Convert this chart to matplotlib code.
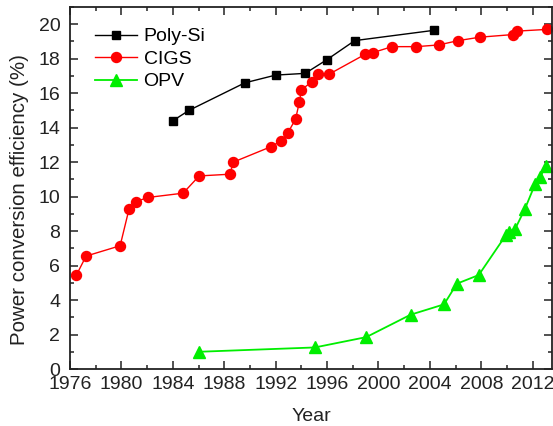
import matplotlib
matplotlib.use("Agg")
import matplotlib.pyplot as plt
from matplotlib.ticker import MultipleLocator

plt.rcParams['font.family'] = ['Liberation Sans', 'DejaVu Sans']

# Record efficiencies by year
polysi_year = [1984.0, 1985.25, 1989.6, 1992.0, 1994.3, 1996.0, 1998.15, 2004.35]
polysi_eff = [14.4, 15.0, 16.6, 17.05, 17.15, 17.95, 19.05, 19.65]

cigs_year = [1976.5, 1977.25, 1979.9, 1980.6, 1981.1, 1982.05, 1984.8, 1986.05,
             1988.45, 1988.7, 1991.65, 1992.45, 1992.95, 1993.55, 1993.85, 1994.0,
             1994.8, 1995.3, 1996.15, 1998.95, 1999.55, 2001.05, 2002.95, 2004.7,
             2006.2, 2007.9, 2010.45, 2010.75, 2013.1]
cigs_eff = [5.45, 6.55, 7.15, 9.3, 9.7, 9.95, 10.2, 11.2,
            11.3, 12.0, 12.9, 13.25, 13.7, 14.5, 15.5, 16.2,
            16.65, 17.1, 17.1, 18.25, 18.35, 18.7, 18.7, 18.8,
            19.05, 19.25, 19.4, 19.6, 19.7]

opv_year = [1986.05, 1995.05, 1999.05, 2002.5, 2005.1, 2006.1, 2007.8, 2009.9,
            2010.15, 2010.65, 2011.4, 2012.2, 2012.6, 2013.0]
opv_eff = [1.0, 1.25, 1.85, 3.15, 3.75, 4.95, 5.45, 7.75,
           7.95, 8.15, 9.3, 10.75, 11.15, 11.8]

x_ticks = list(range(1976, 2013, 4))
y_ticks = list(range(0, 21, 2))

fig = plt.figure(figsize=(5.53, 4.26), dpi=100)
ax = fig.add_axes([70 / 553, 57 / 426, 482 / 553, 362 / 426])

ax.plot(polysi_year, polysi_eff, color='black', lw=1.0, marker='s', ms=6.2,
        mec='black', mfc='black', label='Poly-Si')
ax.plot(cigs_year, cigs_eff, color='#ff0000', lw=1.0, marker='o', ms=7.2,
        mec='#ff0000', mfc='#ff0000', label='CIGS')
ax.plot(opv_year, opv_eff, color='#00ee00', lw=1.3, marker='^', ms=8,
        mec='#00ee00', mfc='#00ee00', label='OPV')

ax.set_xlim(1976, 2013.5)
ax.set_ylim(0, 21)
ax.set_xticks(x_ticks)
ax.set_yticks(y_ticks)
ax.xaxis.set_minor_locator(MultipleLocator(2))
ax.yaxis.set_minor_locator(MultipleLocator(1))

for s in ax.spines.values():
    s.set_linewidth(1.3)
    s.set_color('#222222')

ax.tick_params(which='both', direction='in', top=True, right=True,
               labelsize=14, colors='#222222', width=1.1)
ax.tick_params(which='major', length=5.5)
ax.tick_params(which='minor', length=3)
ax.tick_params(axis='x', which='major', pad=5)
ax.tick_params(axis='y', which='major', pad=7)

ax.set_xlabel('Year', fontsize=14, labelpad=11, color='#222222')
ax.set_ylabel('Power conversion efficiency (%)', fontsize=14.8, color='#222222')
ax.yaxis.set_label_coords(-0.085, 0.467)

ax.legend(loc='upper left', frameon=False, fontsize=14, handlelength=2.15,
          handletextpad=0.34, labelspacing=0.25, borderaxespad=0.3,
          bbox_to_anchor=(0.024, 0.98))

fig.savefig('out.png', dpi=100)
